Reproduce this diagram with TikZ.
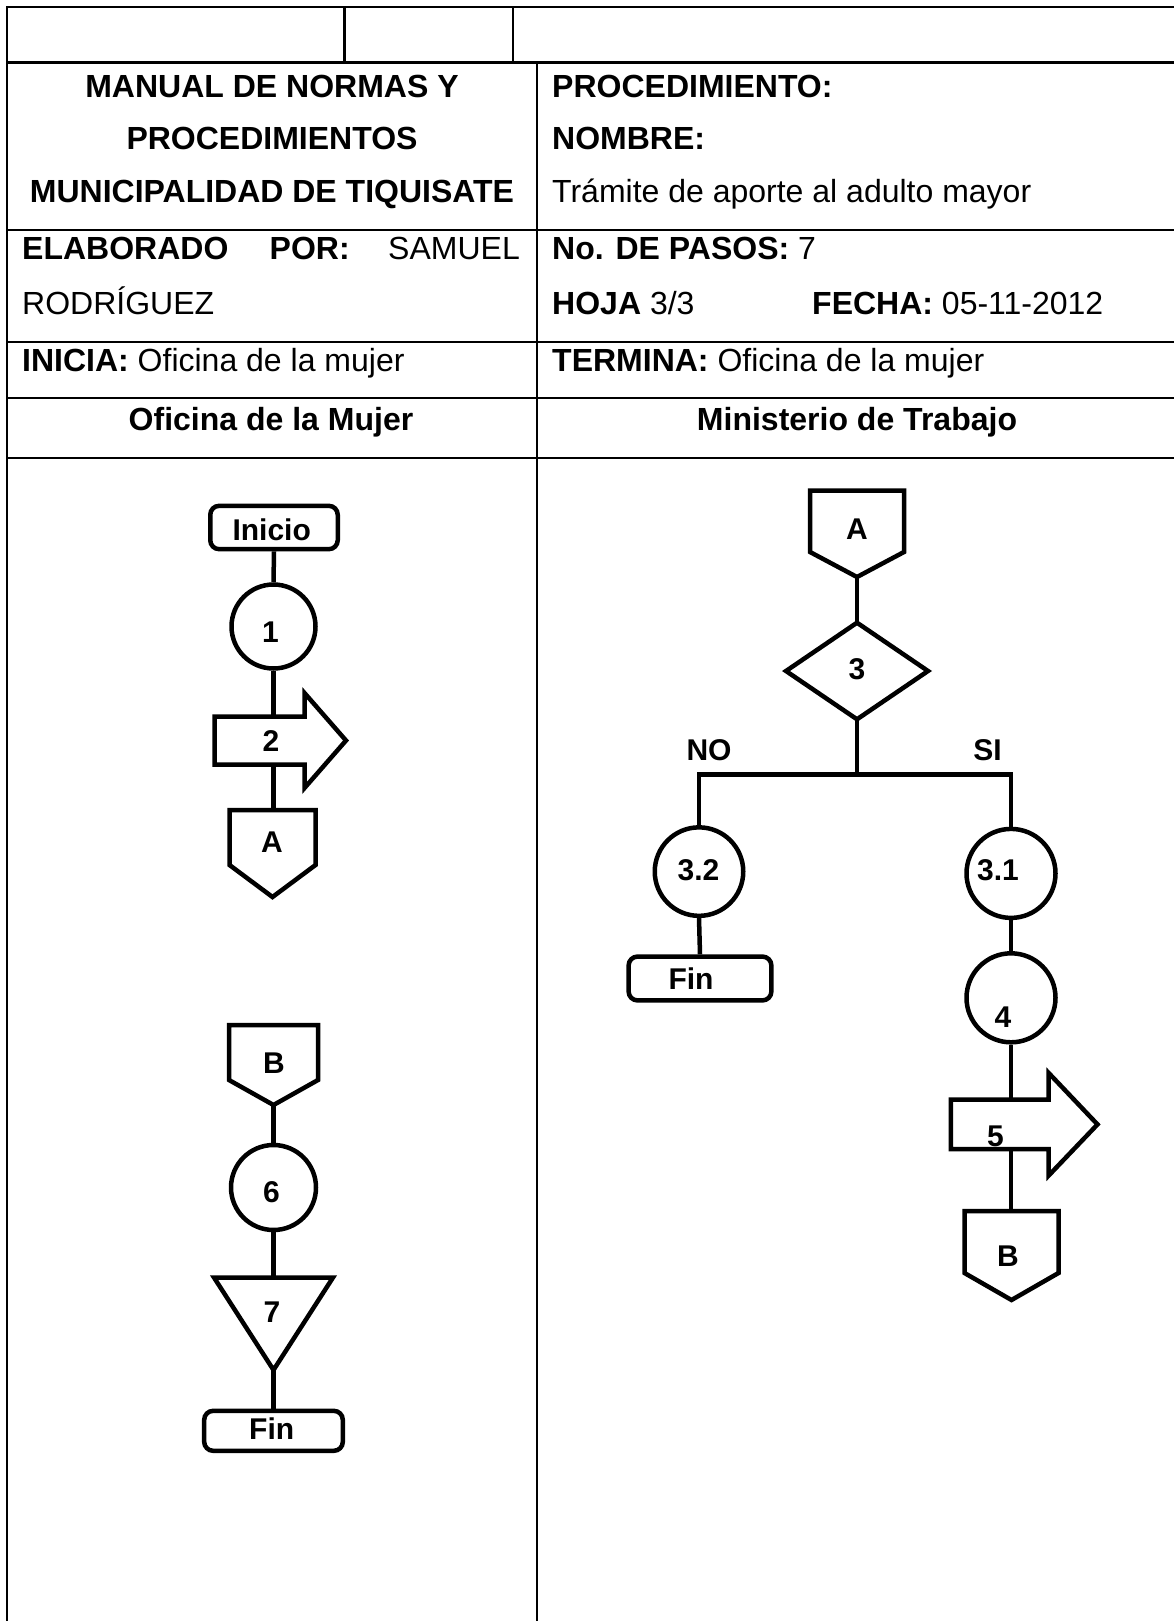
\documentclass[tikz,border=0pt]{standalone}
\usepackage{fontspec}
\setmainfont{Liberation Sans}
\usetikzlibrary{calc}
\begin{document}
\begin{tikzpicture}[x=1pt,y=-1pt,
  tbl/.style={line width=2.2pt},
  fc/.style={line width=4.5pt, line join=miter},
  ttx/.style={inner sep=0pt, font=\fontsize{32}{38}\selectfont},
  ftx/.style={inner sep=0pt, font=\fontsize{30}{36}\selectfont\bfseries},
  circ/.style={circle, draw, fc, inner sep=0pt, minimum size=#1},
  term/.style={rectangle, rounded corners=9pt, draw, fc, inner sep=0pt}
]
\useasboundingbox (0,0) rectangle (1174,1621);
\fill[white] (0,0) rectangle (1174,1621);

% ---------- table ----------
\draw[tbl] (1174,6.7) -- (6.7,6.7) -- (6.7,1621);
\draw[tbl] (6.7,62.5) -- (1174,62.5);
\draw[tbl] (6.7,229.8) -- (1174,229.8);
\draw[tbl] (6.7,341.7) -- (1174,341.7);
\draw[tbl] (6.7,398.3) -- (1174,398.3);
\draw[tbl] (6.7,458) -- (1174,458);
\draw[tbl] (344.4,6.7) -- (344.4,62.5);
\draw[tbl] (512.7,6.7) -- (512.7,62.5);
\draw[tbl] (536.8,62.5) -- (536.8,1621);

\node[ttx, anchor=base] (h1) at (272,98) {\bfseries MANUAL DE NORMAS Y};
\node[ttx, anchor=base] (h2) at (272,150) {\bfseries PROCEDIMIENTOS};
\node[ttx, anchor=base] (h3) at (272,203) {\bfseries MUNICIPALIDAD DE TIQUISATE};
\node[ttx, anchor=base west] (p1) at (552,98) {\bfseries PROCEDIMIENTO:};
\node[ttx, anchor=base west] (p2) at (552,150) {\bfseries NOMBRE:};
\node[ttx, anchor=base west] (p3) at (552,203) {Trámite de aporte al adulto mayor};
\node[ttx, anchor=base west] (e1) at (22,259) {\bfseries ELABORADO};
\node[ttx, anchor=base west] (e2) at (269.5,259) {\bfseries POR:};
\node[ttx, anchor=base east] (e3) at (520,259) {SAMUEL};
\node[ttx, anchor=base west] (e4) at (22,314) {RODRÍGUEZ};
\node[ttx, anchor=base west] (n1) at (552,259) {\textbf{No. DE PASOS:} 7};
\node[ttx, anchor=base west] (n2) at (552,314) {\textbf{HOJA} 3/3};
\node[ttx, anchor=base west] (n3) at (812,314) {\textbf{FECHA:} 05-11-2012};
\node[ttx, anchor=base west] (i1) at (22,371) {\textbf{INICIA:} Oficina de la mujer};
\node[ttx, anchor=base west] (i2) at (552,371) {\textbf{TERMINA:} Oficina de la mujer};
\node[ttx, anchor=base] (col1) at (271,430) {\bfseries Oficina de la Mujer};
\node[ttx, anchor=base] (col2) at (857,430) {\bfseries Ministerio de Trabajo};

% ---------- left column ----------
\node[term, minimum width=127.5pt, minimum height=43.4pt] (ini) at (274,527.5) {};
\node[ftx] (tini) at (271.7,529.5) {Inicio};
\node[circ=84pt] (c1) at (273.5,626.5) {};
\node[ftx] (t1) at (270.5,631.7) {1};
\coordinate (a2top) at (273.5,716.5);
\coordinate (a2bot) at (273.5,764.5);
\draw[fc] (214.5,716.5) -- (304.5,716.5) -- (304.5,693) -- (346,740.5) -- (304.5,788) -- (304.5,764.5) -- (214.5,764.5) -- cycle;
\node[ftx] (t2) at (271,741.5) {2};
\coordinate (pAtop) at (273.5,810);
\draw[fc] (229.5,810) -- (315.5,810) -- (315.5,865) -- (272.5,897) -- (229.5,865) -- cycle;
\node[ftx] (tA1) at (272,842.5) {A};

\draw[fc] (ini.south) -- (c1.north);
\draw[fc] (c1.south) -- (a2top);
\draw[fc] (a2bot) -- (pAtop);

\coordinate (pBtip) at (273.5,1105);
\draw[fc] (229,1025) -- (318,1025) -- (318,1080) -- (273.5,1105) -- (229,1080) -- cycle;
\node[ftx] (tB1) at (274,1063) {B};
\node[circ=85pt] (c6) at (273.5,1187.5) {};
\node[ftx] (t6) at (271.5,1192.5) {6};
\coordinate (t7top) at (273.5,1277.5);
\coordinate (t7apex) at (273.5,1370);
\draw[fc] (214,1277.5) -- (333,1277.5) -- (273.5,1370) -- cycle;
\node[ftx] (t7) at (272,1311.7) {7};
\node[term, minimum width=138.6pt, minimum height=40pt] (finL) at (273.5,1430.8) {};
\node[ftx] (tfinL) at (271.7,1428.3) {Fin};

\draw[fc] (pBtip) -- (c6.north);
\draw[fc] (c6.south) -- (t7top);
\draw[fc] (t7apex) -- (finL.north);

% ---------- right column ----------
\coordinate (pA2tip) at (857,577);
\draw[fc] (810,490.5) -- (904,490.5) -- (904,552) -- (857,577) -- (810,552) -- cycle;
\node[ftx] (tA2) at (857,529.6) {A};
\coordinate (d3top) at (857,622.7);
\coordinate (d3bot) at (857,719.3);
\draw[fc] (786,671) -- (857,622.7) -- (928,671) -- (857,719.3) -- cycle;
\node[ftx] (t3) at (857,669) {3};
\coordinate (jn) at (857,774.6);
\node[ftx] (tno) at (709,750.5) {NO};
\node[ftx] (tsi) at (987.5,750) {SI};

\node[circ=88.5pt] (c32) at (699,871.6) {};
\node[ftx] (t32) at (698.5,870) {3.2};
\node[term, minimum width=142.8pt, minimum height=43.9pt] (finR) at (700,978.5) {};
\node[ftx] (tfinR) at (691,979) {Fin};

\node[circ=89pt] (c31) at (1011,873.4) {};
\node[ftx] (t31) at (998,870) {3.1};
\node[circ=89pt] (c4) at (1011,997.8) {};
\node[ftx] (t4) at (1003,1017.5) {4};
\coordinate (a5top) at (1011,1099.7);
\coordinate (a5bot) at (1011,1149);
\draw[fc] (950.8,1099.7) -- (1048.7,1099.7) -- (1048.7,1073) -- (1097.5,1124.4) -- (1048.7,1175.5) -- (1048.7,1149) -- (950.8,1149) -- cycle;
\node[ftx] (t5) at (995.5,1136.7) {5};
\coordinate (pB2top) at (1011,1211.2);
\draw[fc] (964.5,1211.2) -- (1058.5,1211.2) -- (1058.5,1273) -- (1011.5,1300) -- (964.5,1273) -- cycle;
\node[ftx] (tB2) at (1008,1256) {B};

\draw[fc] (pA2tip) -- (d3top);
\draw[fc] (d3bot) -- (jn);
\draw[fc] (c32.north) |- (jn) -| (c31.north);
\draw[fc] (c32.south) -- (finR.north);
\draw[fc] (c31.south) -- (c4.north);
\draw[fc] (c4.south) -- (a5top);
\draw[fc] (a5bot) -- (pB2top);
\end{tikzpicture}
\end{document}
